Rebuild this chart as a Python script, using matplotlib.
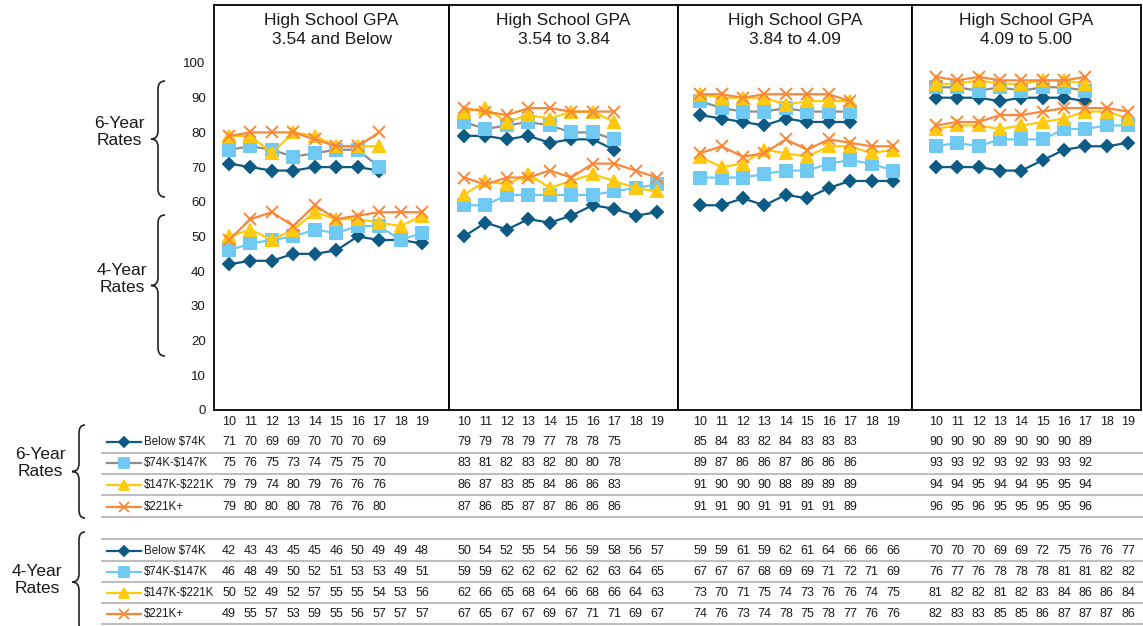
import matplotlib.pyplot as plt
import matplotlib.transforms as mtransforms
from matplotlib.lines import Line2D
from matplotlib.path import Path
from matplotlib.patches import PathPatch

W, H = 1143, 626

plt.rcParams["font.family"] = ["Liberation Sans", "DejaVu Sans"]

years = [10, 11, 12, 13, 14, 15, 16, 17, 18, 19]

panel_titles = [
    "High School GPA\n3.54 and Below",
    "High School GPA\n3.54 to 3.84",
    "High School GPA\n3.84 to 4.09",
    "High School GPA\n4.09 to 5.00",
]

income_groups = ["Below $74K", "$74K-$147K", "$147K-$221K", "$221K+"]

# 6-year rates (cohorts 10-17), one list per GPA panel
six_below74 = [
    [71, 70, 69, 69, 70, 70, 70, 69],
    [79, 79, 78, 79, 77, 78, 78, 75],
    [85, 84, 83, 82, 84, 83, 83, 83],
    [90, 90, 90, 89, 90, 90, 90, 89],
]
six_74_147 = [
    [75, 76, 75, 73, 74, 75, 75, 70],
    [83, 81, 82, 83, 82, 80, 80, 78],
    [89, 87, 86, 86, 87, 86, 86, 86],
    [93, 93, 92, 93, 92, 93, 93, 92],
]
six_147_221 = [
    [79, 79, 74, 80, 79, 76, 76, 76],
    [86, 87, 83, 85, 84, 86, 86, 83],
    [91, 90, 90, 90, 88, 89, 89, 89],
    [94, 94, 95, 94, 94, 95, 95, 94],
]
six_221 = [
    [79, 80, 80, 80, 78, 76, 76, 80],
    [87, 86, 85, 87, 87, 86, 86, 86],
    [91, 91, 90, 91, 91, 91, 91, 89],
    [96, 95, 96, 95, 95, 95, 95, 96],
]

# 4-year rates (cohorts 10-19)
four_below74 = [
    [42, 43, 43, 45, 45, 46, 50, 49, 49, 48],
    [50, 54, 52, 55, 54, 56, 59, 58, 56, 57],
    [59, 59, 61, 59, 62, 61, 64, 66, 66, 66],
    [70, 70, 70, 69, 69, 72, 75, 76, 76, 77],
]
four_74_147 = [
    [46, 48, 49, 50, 52, 51, 53, 53, 49, 51],
    [59, 59, 62, 62, 62, 62, 62, 63, 64, 65],
    [67, 67, 67, 68, 69, 69, 71, 72, 71, 69],
    [76, 77, 76, 78, 78, 78, 81, 81, 82, 82],
]
four_147_221 = [
    [50, 52, 49, 52, 57, 55, 55, 54, 53, 56],
    [62, 66, 65, 68, 64, 66, 68, 66, 64, 63],
    [73, 70, 71, 75, 74, 73, 76, 76, 74, 75],
    [81, 82, 82, 81, 82, 83, 84, 86, 86, 84],
]
four_221 = [
    [49, 55, 57, 53, 59, 55, 56, 57, 57, 57],
    [67, 65, 67, 67, 69, 67, 71, 71, 69, 67],
    [74, 76, 73, 74, 78, 75, 78, 77, 76, 76],
    [82, 83, 83, 85, 85, 86, 87, 87, 87, 86],
]

six_series = [six_below74, six_74_147, six_147_221, six_221]
four_series = [four_below74, four_74_147, four_147_221, four_221]

navy = "#0D5A84"
sky = "#6FC9F2"
gold = "#FFC90E"
orange = "#F8883A"
grey = "#8C8C8C"

marker_colors = [navy, sky, gold, orange]
six_line_colors = [navy, grey, gold, orange]
four_line_colors = [navy, sky, gold, orange]
markers = ["D", "s", "^", "x"]
marker_sizes = [6.5, 9, 9, 8]

# layout in pixels
panel_left = [214, 449, 678, 912]
panel_right = [449, 678, 912, 1141]
panel_xlim = [(9.3, 20.26), (9.3, 19.98), (8.97, 19.89), (8.88, 19.6)]
axis_bottom = 410
axis_top = 5

six_rows_y = [442, 463, 485, 507]
six_lines_y = [453, 474, 495, 517]
four_rows_y = [551, 572, 593, 614]
four_lines_y = [539, 561, 582, 603, 624]

table_font = 9
legend_font = 8.3
text_color = "#1a1a1a"


def fx(px):
    return px / W


def fy(py):
    return 1 - py / H


fig = plt.figure(figsize=(W / 100, H / 100), dpi=100)

for p in range(4):
    ax = fig.add_axes([
        fx(panel_left[p]),
        fy(axis_bottom),
        (panel_right[p] - panel_left[p]) / W,
        (axis_bottom - axis_top) / H,
    ])

    for g in range(4):
        ax.plot(
            years[:len(six_series[g][p])],
            six_series[g][p],
            color=six_line_colors[g],
            lw=1.6,
            marker=markers[g],
            ms=marker_sizes[g],
            mfc=marker_colors[g],
            mec=marker_colors[g],
            mew=1.4,
            clip_on=False,
        )
    for g in range(4):
        ax.plot(
            years,
            four_series[g][p],
            color=four_line_colors[g],
            lw=1.6,
            marker=markers[g],
            ms=marker_sizes[g],
            mfc=marker_colors[g],
            mec=marker_colors[g],
            mew=1.4,
            clip_on=False,
        )

    ax.set_xlim(panel_xlim[p])
    ax.set_ylim(0, (axis_bottom - axis_top) / ((axis_bottom - 63) / 100))
    ax.set_xticks(years)
    ax.tick_params(axis="x", length=0, pad=4, labelsize=table_font,
                   labelcolor=text_color)

    if p == 0:
        ax.set_yticks(range(0, 101, 10))
        ax.tick_params(axis="y", length=0, pad=6, labelsize=9.5,
                       labelcolor=text_color)
    else:
        ax.set_yticks([])

    for s in ax.spines.values():
        s.set_color("black")
        s.set_linewidth(1.3)

    ax.text(
        0.5, 1 - 8 / (axis_bottom - axis_top),
        panel_titles[p],
        transform=ax.transAxes,
        ha="center", va="top",
        fontsize=12.5, color=text_color,
        linespacing=1.3,
    )

    # table values under each panel, placed at the panel's year positions
    trans = mtransforms.blended_transform_factory(
        ax.transData, fig.transFigure
    )
    for g in range(4):
        for yr, v in zip(years, six_series[g][p]):
            ax.text(yr, fy(six_rows_y[g]), str(v), transform=trans,
                    ha="center", va="center", fontsize=table_font,
                    color=text_color)
        for yr, v in zip(years, four_series[g][p]):
            ax.text(yr, fy(four_rows_y[g]), str(v), transform=trans,
                    ha="center", va="center", fontsize=table_font,
                    color=text_color)

# table separator lines
for y in six_lines_y + four_lines_y:
    fig.add_artist(Line2D([fx(102), 1], [fy(y), fy(y)],
                          color="#BEBEBE", lw=1.5))

# legend keys in the table
for rows_y, line_colors in [(six_rows_y, six_line_colors),
                            (four_rows_y, four_line_colors)]:
    for g in range(4):
        y = fy(rows_y[g])
        fig.add_artist(Line2D([fx(107), fx(141)], [y, y],
                              color=line_colors[g], lw=1.6))
        fig.add_artist(Line2D([fx(124)], [y], marker=markers[g],
                              ms=marker_sizes[g] - 1.5,
                              mfc=marker_colors[g],
                              mec=marker_colors[g], mew=1.3, lw=0))
        fig.text(fx(144), y, income_groups[g], ha="left", va="center",
                 fontsize=legend_font, color=text_color, parse_math=False)


def brace(x_tip, x_mid, x_end, y_top, y_bot, r=8):
    yc = (y_top + y_bot) / 2
    pts = [
        (x_end, y_top),
        (x_mid, y_top), (x_mid, y_top + r),
        (x_mid, yc - r),
        (x_mid, yc), (x_tip, yc),
        (x_mid, yc), (x_mid, yc + r),
        (x_mid, y_bot - r),
        (x_mid, y_bot), (x_end, y_bot),
    ]
    codes = [
        Path.MOVETO,
        Path.CURVE3, Path.CURVE3,
        Path.LINETO,
        Path.CURVE3, Path.CURVE3,
        Path.CURVE3, Path.CURVE3,
        Path.LINETO,
        Path.CURVE3, Path.CURVE3,
    ]
    verts = [(fx(x), fy(y)) for x, y in pts]
    fig.add_artist(PathPatch(Path(verts, codes), fc="none",
                             ec="#222222", lw=1.2,
                             transform=fig.transFigure))


brace(151, 158, 165, 81, 197)
brace(151, 158, 165, 215, 356)
brace(72, 79, 85, 425, 518)
brace(72, 79, 85, 532, 632)

fig.text(fx(119), fy(132), "6-Year\nRates", ha="center", va="center",
         fontsize=12.5, color=text_color, linespacing=1.15)
fig.text(fx(122), fy(279), "4-Year\nRates", ha="center", va="center",
         fontsize=12.5, color=text_color, linespacing=1.15)
fig.text(fx(40), fy(463), "6-Year\nRates", ha="center", va="center",
         fontsize=12.5, color=text_color, linespacing=1.15)
fig.text(fx(37), fy(580), "4-Year\nRates", ha="center", va="center",
         fontsize=12.5, color=text_color, linespacing=1.15)

fig.savefig("out.png", dpi=100)
